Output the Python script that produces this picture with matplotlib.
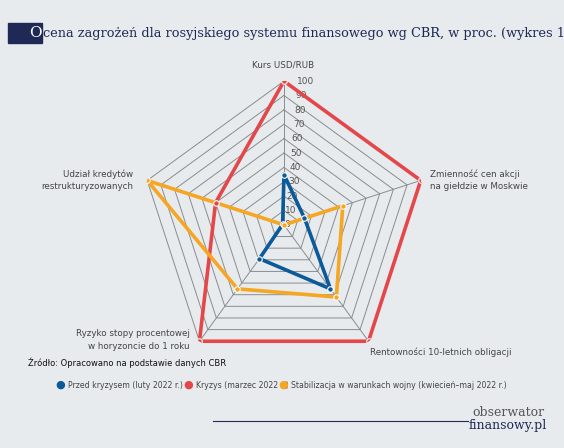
import numpy as np
import matplotlib.pyplot as plt

categories = ['Kurs USD/RUB', 'Zmienność cen akcji\nna giełdzie w Moskwie',
              'Rentowności 10-letnich obligacji',
              'Ryzyko stopy procentowej\nw horyzoncie do 1 roku',
              'Udział kredytów\nrestrukturyzowanych']
przed = [35, 15, 55, 29, 1]
kryzys = [100, 100, 100, 100, 50]
stabil = [0, 43, 62, 55, 100]
series_names = ['Przed kryzysem (luty 2022 r.)', 'Kryzys (marzec 2022 r.)',
                'Stabilizacja w warunkach wojny (kwiecień–maj 2022 r.)']
colors = ['#0b5a9a', '#e4474a', '#f5a623']
bg = '#e8ebee'

fig = plt.figure(figsize=(5.64, 4.48), dpi=100, facecolor=bg)
ax = fig.add_axes([0.5035 - 0.255, 0.498 - 0.321, 0.51, 0.642], projection='polar')
ax.set_facecolor('none')
ax.set_theta_zero_location('N')
ax.set_theta_direction(-1)
ax.set_ylim(0, 100)
ax.axis('off')

n = len(categories)
ang = np.linspace(0, 2 * np.pi, n, endpoint=False)
ang_c = np.append(ang, ang[0])

for r in range(10, 101, 10):
    ax.plot(ang_c, [r] * (n + 1), color='#8a8d90', lw=0.7, zorder=1)
for a in ang:
    ax.plot([a, a], [0, 100], color='#8a8d90', lw=0.7, zorder=1)
for r in range(0, 101, 10):
    ax.text(0.09, r, str(r), fontsize=6.5, color='#555', ha='left', va='center', zorder=2)

for vals, c in zip([przed, kryzys, stabil], colors):
    v = np.append(vals, vals[0])
    ax.plot(ang_c, v, color=c, lw=2.6, zorder=3)
    ax.plot(ang, vals, 'o', color=c, ms=4, mec='white', mew=0.8, zorder=4)

lab_pos = [(283, 65, 'center'), (430, 180, 'left'), (370, 352, 'left'),
           (190, 340, 'right'), (133, 180, 'right')]
for name, (x, y, ha) in zip(categories, lab_pos):
    fig.text(x / 564, 1 - y / 448, name, fontsize=6.3, color='#444',
             ha=ha, va='center', linespacing=1.5)

# title
fig.patches.append(plt.Rectangle((8 / 564, 1 - 43 / 448), 34 / 564, 20 / 448,
                                 transform=fig.transFigure, color='#1e2a55'))
fig.text(42 / 564, 1 - 33 / 448, 'O', fontsize=11, color='white', ha='right',
         va='center', family='DejaVu Serif')
fig.text(43 / 564, 1 - 33 / 448,
         'cena zagrożeń dla rosyjskiego systemu finansowego wg CBR, w proc. (wykres 1)',
         fontsize=9.3, color='#1e2a55', ha='left', va='center', family='DejaVu Serif')

fig.text(28 / 564, 1 - 363 / 448, 'Źródło: Opracowano na podstawie danych CBR',
         fontsize=6, color='#111', ha='left', va='center')

# legend
leg_x = [60, 188, 283]
for name, c, x in zip(series_names, colors, leg_x):
    fig.text(x / 564, 1 - 385 / 448, '●', fontsize=8, color=c, ha='center', va='center')
    fig.text((x + 8) / 564, 1 - 385 / 448, name, fontsize=5.6, color='#444',
             ha='left', va='center')

fig.add_artist(plt.Line2D([213 / 564, 468 / 564], [1 - 421 / 448] * 2,
                          color='#1e2a55', lw=0.8))
fig.text(508 / 564, 1 - 412 / 448, 'obserwator', fontsize=9, color='#555',
         ha='center', va='center', family='DejaVu Serif')
fig.text(508 / 564, 1 - 425 / 448, 'finansowy.pl', fontsize=9, color='#1e2a55',
         ha='center', va='center', family='DejaVu Serif')

fig.savefig('out.png', dpi=100, facecolor=bg)
